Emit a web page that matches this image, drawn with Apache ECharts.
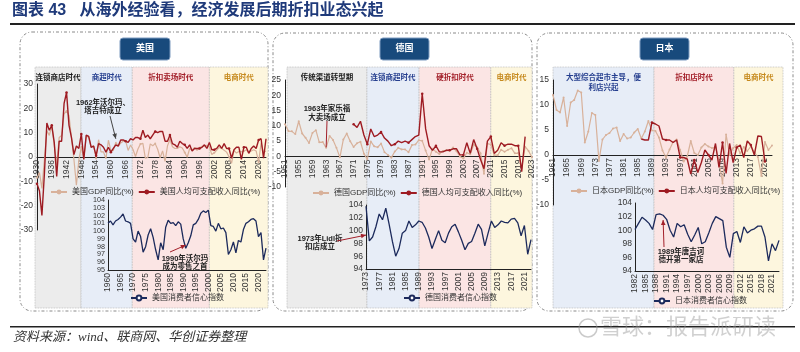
<!DOCTYPE html>
<html>
<head>
<meta charset="utf-8">
<script src="https://cdn.jsdelivr.net/npm/echarts@6/dist/echarts.min.js"></script>
</head>
<body style="margin:0;background:#fff">
<div id="main" style="width:800px;height:352px"></div>
<script>
// ---- 数据 ----
var usStart = 1930, usEnd = 2023;
var usGdp = [-8.5, -6.4, -12.9, -1.2, 10.8, 8.9, 12.9, 5.1, -3.3, 8.0,
  8.8, 17.7, 18.9, 17.0, 8.0, -1.0, -11.6, -1.1, 4.1, -0.6,
  8.7, 8.0, 4.1, 4.7, -0.6, 7.1, 2.1, 2.1, -0.7, 6.9,
  2.6, 2.6, 6.1, 4.4, 5.8, 6.5, 6.6, 2.7, 4.9, 3.1,
  0.2, 3.3, 5.3, 5.6, -0.5, -0.2, 5.4, 4.6, 5.5, 3.2,
  -0.3, 2.5, -1.8, 4.6, 7.2, 4.2, 3.5, 3.5, 4.2, 3.7,
  1.9, -0.1, 3.5, 2.8, 4.0, 2.7, 3.8, 4.4, 4.5, 4.8,
  4.1, 1.0, 1.7, 2.8, 3.9, 3.5, 2.8, 2.0, 0.1, -2.6,
  2.7, 1.6, 2.3, 2.1, 2.5, 2.9, 1.8, 2.5, 3.0, 2.5,
  -2.2, 5.8, 1.9, 2.5];
var usIncomeStart = 1930;
var usIncome = [-11, -14, -24, -7, 14, 11, 13, 6, -8, 6.5,
  6.5, 22, 26.5, 13, 8, 1, 4.5, 3.5, 9.5, -1,
  9, 8.5, 4, 4.5, 0.5, 5.5, 5, 4, 2, 4,
  2, 3.5, 5, 4.5, 7, 7, 6.5, 6, 7.5, 7,
  8, 8, 7.5, 11, 8, 9, 7.5, 9, 10.5, 10,
  10.5, 10.5, 6.5, 6.5, 9, 5.5, 5, 4, 6.5, 5.5,
  5, 3.5, 5, 2.5, 3.5, 3.5, 3.5, 4, 5, 3.5,
  6, 3, 3, 3.5, 5, 3.5, 5.5, 3.5, 3.5, -0.5,
  3, 4, 4, -1, 4, 4, 1.5, 3.5, 4.5, 3.5,
  7, 7.5, -0.5, 7.5];
var usCciStart = 1960;
var usCci = [101.0, 101.3, 100.8, 101.3, 101.5, 101.8, 102.2, 101.3, 101.2, 101.0,
  99.0, 98.6, 100.0, 99.3, 97.3, 98.0, 99.5, 100.3, 99.2, 97.6,
  96.3, 98.5, 97.6, 100.5, 101.4, 101.0, 101.1, 100.7, 101.2, 100.9,
  99.0, 97.8, 98.5, 99.4, 100.8, 101.0, 101.5, 102.3, 102.6, 102.4,
  102.7, 100.7, 100.6, 100.0, 101.0, 100.3, 100.4, 99.8, 97.0, 97.6,
  98.6, 97.2, 98.8, 98.6, 100.2, 101.0, 101.2, 101.5, 101.6, 101.3,
  99.3, 99.8, 96.3, 97.8];

var deStart = 1951, deEnd = 2023;
var deGdp = [10.5, 8.3, 8.2, 7.3, 11.5, 7.5, 6.1, 4.4, 7.7, 8.6,
  4.6, 4.7, 2.8, 6.7, 5.4, 2.8, -0.3, 5.5, 7.5, 5.0,
  3.1, 4.3, 4.8, 0.9, -0.9, 4.9, 3.3, 3.0, 4.2, 1.4,
  0.5, -0.4, 1.6, 2.8, 2.3, 2.3, 1.4, 3.7, 3.9, 5.3,
  5.1, 1.9, -1.0, 2.5, 1.5, 0.8, 1.8, 2.0, 1.9, 2.9,
  1.7, 0.0, -0.7, 1.2, 0.7, 3.8, 3.0, 1.0, -5.7, 4.2,
  3.9, 0.4, 0.4, 2.2, 1.5, 2.2, 2.7, 1.0, 1.1, -3.8,
  3.2, 1.8, -0.3];
var deIncomeStart = 1971;
var deIncome = [10.5, 9.5, 11.5, 7, 4, 9, 6.5, 7, 8, 6,
  5, 3.5, 4, 5, 4.5, 5, 4.5, 5.5, 6.5, 7,
  20.5, 9, 3.5, 2, 3.5, 1.5, 1.5, 2, 2, 2.5,
  2.5, 0.5, 0.5, 4.5, 1, 5.5, 2.5, -1, -4, 5,
  6.5, 1, 2, 4.5, 3.5, 4, 4, 3.5, 3.5, -5,
  6.5];
var deCciStart = 1973;
var deCci = [103.8, 98.4, 99.0, 100.6, 102.6, 101.7, 103.5, 101.0, 98.3, 96.0,
  97.2, 99.6, 100.0, 101.5, 100.5, 100.9, 101.5, 101.3, 100.4, 99.0,
  97.2, 98.6, 100.0, 98.5, 98.1, 99.6, 100.6, 101.0, 99.8, 98.5,
  97.0, 98.0, 98.3, 99.6, 101.0, 100.2, 97.6, 99.6, 101.5, 100.5,
  100.9, 101.5, 101.3, 101.2, 101.8, 101.9, 101.2, 99.2, 100.8, 96.3,
  98.6];

var jpStart = 1961, jpEnd = 2023;
var jpGdp = [12.0, 9.0, 8.5, 11.5, 5.8, 10.5, 11.0, 12.9, 12.5, 2.5,
  4.7, 8.4, 8.0, -1.2, 3.1, 4.0, 4.4, 5.3, 5.5, 2.8,
  4.2, 3.3, 3.5, 4.5, 5.2, 3.3, 4.7, 6.8, 4.9, 4.8,
  3.5, 0.9, -0.5, 1.1, 2.6, 3.1, 1.0, -1.3, -0.3, 2.8,
  0.4, 0.0, 1.5, 2.2, 1.7, 1.4, 1.5, -1.2, -5.7, 4.1,
  0.0, 1.4, 2.0, 0.3, 1.6, 0.8, 1.7, 0.6, -0.4, -4.2,
  2.6, 1.0, 1.9];
var jpIncomeStart = 1986;
var jpIncome = [3.2, 3.0, 3.0, 6.5, 6.2, 5.8, 3.2, 3.0, 3.0, 2.5,
  3.0, -0.5, -0.5, -0.8, -3.8, -1.0, -3.5, -1.5, 1.0, 0.0,
  -1.0, 2.3, -2.5, 2.5, -3.7, 2.3, -1.5, 1.5, 2.0, -0.5,
  2.8, 2.0, 0.0, 3.8, 3.7, -1.3];
var jpCciStart = 1982;
var jpCci = [100.1, 101.0, 101.9, 101.5, 101.0, 100.1, 102.3, 102.4, 102.2, 101.6,
  100.0, 99.0, 101.0, 100.5, 100.8, 99.4, 98.3, 99.3, 100.4, 98.0,
  98.3, 99.6, 101.0, 102.0, 101.7, 101.4, 97.5, 96.0, 99.5, 99.8,
  98.2, 100.5, 99.6, 100.0, 100.2, 100.6, 100.6, 99.0, 95.5, 98.0,
  97.0, 98.5];

// 时代划分 [起, 止, 名称]
var usEras = [[1929.2, 1947.9, '连锁商店时代'], [1947.9, 1968.7, '商超时代'], [1968.7, 2000, '折扣卖场时代'], [2000, 2023.8, '电商时代']];
var deEras = [[1951.6, 1974.9, '传统渠道转型期'], [1974.9, 1990.1, '连锁商超时代'], [1990.1, 2011, '硬折扣时代'], [2011, 2023, '电商时代']];
var jpEras = [[1961, 1989.6, '大型综合超市主导，便\n利店兴起'], [1989.6, 2012.2, '折扣店时代'], [2012.2, 2026.1, '电商时代']];
var usEraKinds = ['gray', 'blue', 'pink', 'yellow'];
var deEraKinds = ['gray', 'blue', 'pink', 'yellow'];
var jpEraKinds = ['blue', 'pink', 'yellow'];

// 轴标签间隔（年）
var usTopStep = 6, usBotStep = 5;
var deTopStep = 4, deBotStep = 4;
var jpTopStep = 4, jpBotStep = 3;

// ---- 样式 ----
var eraFill = { gray: '#ececec', blue: '#e7edf7', pink: '#fbe5e4', yellow: '#fdf6de' };
var eraText = { gray: '#1a1a1a', blue: '#263f8f', pink: '#a3202a', yellow: '#c68a1e' };
var cTan = '#d8b19a', cRed = '#9e1b22', cNavy = '#1c2a5c';
var FONT = "'Liberation Sans','Noto Sans CJK SC',sans-serif";

var panels = [
  { name: '美国', start: usStart, end: usEnd, gdp: usGdp, inc: usIncome, incStart: usIncomeStart,
    cci: usCci, cciStart: usCciStart, eras: usEras, kinds: usEraKinds, topStep: usTopStep, botStep: usBotStep,
    gdpName: '美国GDP同比(%)', incName: '美国人均可支配收入同比(%)', cciName: '美国消费者信心指数',
    box: [20, 32, 268, 311], head: [120, 38, 170, 60], bandYears: [1929.2, 2023.8],
    band: [35, 67, 268, 308], top: [37, 84, 266, 230], bot: [108, 200, 266, 270],
    topY: [-30, 30, 10], botY: [95, 104, 1], botYFont: 7.2, legTop: [50, 188], legBot: [130, 294] },
  { name: '德国', start: deStart, end: deEnd, gdp: deGdp, inc: deIncome, incStart: deIncomeStart,
    cci: deCci, cciStart: deCciStart, eras: deEras, kinds: deEraKinds, topStep: deTopStep, botStep: deBotStep,
    gdpName: '德国GDP同比(%)', incName: '德国人均可支配收入同比(%)', cciName: '德国消费者信心指数',
    box: [273, 33, 532, 311], head: [380, 38, 429, 60], bandYears: [1951.6, 2023],
    band: [287, 67, 532, 308], top: [285, 80, 532, 187], bot: [366, 205, 531, 269],
    topY: [-10, 25, 5], botY: [94, 104, 2], botYFont: 8.5, legTop: [312, 189], legBot: [403, 294] },
  { name: '日本', start: jpStart, end: jpEnd, gdp: jpGdp, inc: jpIncome, incStart: jpIncomeStart,
    cci: jpCci, cciStart: jpCciStart, eras: jpEras, kinds: jpEraKinds, topStep: jpTopStep, botStep: jpBotStep,
    gdpName: '日本GDP同比(%)', incName: '日本人均可支配收入同比(%)', cciName: '日本消费者信心指数',
    box: [537, 33, 793, 311], head: [640, 38, 689, 60], bandYears: [1961, 2026.1],
    band: [553, 67, 783, 308], top: [553, 80, 772, 205], bot: [635, 203, 779, 271],
    topY: [-10, 15, 5], botY: [94, 104, 2], botYFont: 8.5, legTop: [570, 187], legBot: [653, 297] }
];

function years(a, b) { var o = []; for (var y = a; y <= b; y++) o.push(String(y)); return o; }
function pairs(start, vals) { return vals.map(function (v, i) { return [String(start + i), v]; }); }
function box(r) { return { left: r[0], top: r[1], width: r[2] - r[0], height: r[3] - r[1] }; }

var grids = [], xAxes = [], yAxes = [], series = [], legends = [];
var axisLab = { fontSize: 8.5, color: '#333', fontFamily: FONT };
var yLab = { fontSize: 8.5, color: '#333', fontFamily: FONT, showMinLabel: true, showMaxLabel: true, hideOverlap: false };

panels.forEach(function (p, k) {
  var b = 3 * k;
  grids.push(box(p.band), box(p.top), box(p.bot));
  // 年份轴画在 0 值处：从网格底边上移
  var h = p.top[3] - p.top[1];
  var zeroUp = h * (0 - p.topY[0]) / (p.topY[1] - p.topY[0]);

  xAxes.push({ gridIndex: b, type: 'value', min: p.bandYears[0], max: p.bandYears[1], show: false });
  yAxes.push({ gridIndex: b, type: 'value', min: 0, max: 1, show: false });

  xAxes.push({ gridIndex: b + 1, type: 'category', data: years(p.start, p.end), boundaryGap: false, z: 1,
    position: 'bottom', offset: -zeroUp,
    axisLine: { show: true, onZero: false, lineStyle: { color: '#222', width: 1 } }, axisTick: { show: false },
    axisLabel: Object.assign({ rotate: 90, interval: p.topStep - 1, margin: 3 }, axisLab) });
  yAxes.push({ gridIndex: b + 1, type: 'value', min: p.topY[0], max: p.topY[1], interval: p.topY[2], z: 1,
    axisLine: { show: true, lineStyle: { color: '#222' } }, axisTick: { show: false }, splitLine: { show: false },
    axisLabel: Object.assign({ margin: 4 }, yLab) });

  xAxes.push({ gridIndex: b + 2, type: 'category', data: years(p.cciStart, p.end), boundaryGap: false, z: 1,
    axisLine: { show: true, onZero: false, lineStyle: { color: '#222', width: 1 } }, axisTick: { show: false },
    axisLabel: Object.assign({ rotate: 90, interval: p.botStep - 1, margin: 3 }, axisLab) });
  yAxes.push({ gridIndex: b + 2, type: 'value', min: p.botY[0], max: p.botY[1], interval: p.botY[2], z: 1,
    axisLine: { show: true, lineStyle: { color: '#222' } }, axisTick: { show: false }, splitLine: { show: false },
    axisLabel: Object.assign({}, yLab, { margin: 3, fontSize: p.botYFont, lineHeight: p.botYFont }) });

  // 背景时代色块放在坐标轴下面
  series.push({
    type: 'line', xAxisIndex: b, yAxisIndex: b, data: [], silent: true, z: -5,
    markArea: {
      silent: true, z: -5,
      label: { show: true, position: 'insideTop', distance: 6, fontSize: 7.5, fontWeight: 'bold',
        lineHeight: 10, fontFamily: FONT },
      data: p.eras.map(function (e, i) {
        var kind = p.kinds[i];
        return [{ xAxis: e[0], name: e[2],
          itemStyle: { color: eraFill[kind], borderColor: '#b8b8b8', borderWidth: 0.8, borderType: 'dotted' },
          label: { color: eraText[kind] } }, { xAxis: e[1] }];
      })
    }
  });
  series.push({ name: p.gdpName, type: 'line', xAxisIndex: b + 1, yAxisIndex: b + 1, z: 3,
    data: pairs(p.start, p.gdp), symbol: 'circle', symbolSize: 2,
    itemStyle: { color: cTan }, lineStyle: { color: cTan, width: 1.2 } });
  series.push({ name: p.incName, type: 'line', xAxisIndex: b + 1, yAxisIndex: b + 1, z: 4,
    data: pairs(p.incStart, p.inc), symbol: 'circle', symbolSize: 2.5,
    itemStyle: { color: cRed }, lineStyle: { color: cRed, width: 1.4 } });
  series.push({ name: p.cciName, type: 'line', xAxisIndex: b + 2, yAxisIndex: b + 2, z: 4,
    data: pairs(p.cciStart, p.cci), showSymbol: false,
    itemStyle: { color: cNavy }, lineStyle: { color: cNavy, width: 1.3 } });

  var legText = { fontSize: 8, color: '#333', fontFamily: FONT };
  legends.push({ left: p.legTop[0], top: p.legTop[1], padding: 0, itemGap: 4, itemWidth: 16, itemHeight: 6,
    data: [p.gdpName, p.incName], textStyle: legText, selectedMode: false });
  legends.push({ left: p.legBot[0], top: p.legBot[1], padding: 0, itemWidth: 16, itemHeight: 6,
    data: [p.cciName], textStyle: legText, selectedMode: false });
});

var chart = echarts.init(document.getElementById('main'));
chart.setOption({
  animation: false,
  textStyle: { fontFamily: FONT },
  title: { text: '图表 43   从海外经验看，经济发展后期折扣业态兴起', left: 12, top: 3, padding: 0,
    textStyle: { color: '#1f3a7a', fontSize: 16, fontWeight: 'bold', fontFamily: FONT } },
  grid: grids, xAxis: xAxes, yAxis: yAxes, legend: legends, series: series
});

// ---- 装饰与注释 ----
function arrow(p0, p1, color, head) {
  var els = [{ type: 'line', z: 20, shape: { x1: p0[0], y1: p0[1], x2: p1[0], y2: p1[1] },
    style: { stroke: color, lineWidth: 1 } }];
  if (head) {
    var dx = p1[0] - p0[0], dy = p1[1] - p0[1], L = Math.sqrt(dx * dx + dy * dy), ux = dx / L, uy = dy / L;
    var bx = p1[0] - ux * 5, by = p1[1] - uy * 5;
    els.push({ type: 'polygon', z: 20, shape: { points: [[p1[0], p1[1]], [bx - uy * 2.3, by + ux * 2.3], [bx + uy * 2.3, by - ux * 2.3]] },
      style: { fill: color } });
  }
  return els;
}
function px(axis, pt) { return chart.convertToPixel({ xAxisIndex: axis, yAxisIndex: axis }, pt); }
function note(x, y, text, lh) {
  return { type: 'text', z: 20, x: x, y: y, style: { text: text, align: 'center', verticalAlign: 'middle',
    fontSize: 7.5, fontWeight: 'bold', lineHeight: lh, fill: '#222', fontFamily: FONT } };
}

var g = [];
g.push({ type: 'rect', shape: { x: 10, y: 23, width: 785, height: 2 }, style: { fill: '#222' } });
g.push({ type: 'rect', shape: { x: 10, y: 326, width: 785, height: 1.6 }, style: { fill: '#222' } });
g.push({ type: 'text', x: 13, y: 338, style: { text: '资料来源：wind、联商网、华创证券整理', fontSize: 13,
  fontStyle: 'italic', fill: '#333', verticalAlign: 'middle', fontFamily: "'Liberation Serif','Noto Sans CJK SC',serif" } });
g.push({ type: 'circle', z: 30, shape: { cx: 588, cy: 328, r: 9 }, style: { fill: 'none', stroke: 'rgba(150,150,150,0.5)', lineWidth: 1.5 } });
g.push({ type: 'text', z: 30, x: 600, y: 328, style: { text: '雪球：报告派研读', fontSize: 22, fill: 'rgba(150,150,150,0.45)',
  verticalAlign: 'middle', fontFamily: FONT } });

panels.forEach(function (p) {
  g.push({ type: 'rect', z: -10, shape: { x: p.box[0], y: p.box[1], width: p.box[2] - p.box[0], height: p.box[3] - p.box[1], r: 12 },
    style: { fill: 'none', stroke: '#8a8a8a', lineWidth: 1, lineDash: [3, 2, 1, 2] } });
  g.push({ type: 'rect', shape: { x: p.head[0], y: p.head[1], width: p.head[2] - p.head[0], height: p.head[3] - p.head[1], r: 3 },
    style: { fill: '#184a7c', stroke: '#7f9cc0', lineWidth: 1 } });
  g.push({ type: 'text', x: (p.head[0] + p.head[2]) / 2, y: (p.head[1] + p.head[3]) / 2,
    style: { text: p.name, fill: '#fff', fontSize: 9, fontWeight: 'bold', align: 'center', verticalAlign: 'middle', fontFamily: FONT } });
});

g.push(note(103, 107, '1962年沃尔玛、\n塔吉特成立', 8.5));
g = g.concat(arrow([110, 116], px(1, ['1962', 7.5]), '#444', true));
g.push(note(185, 263, '1990年沃尔玛\n成为零售之首', 8.5));
g = g.concat(arrow([170, 252], px(2, ['1991', 98.2]), '#a3202a', true));
g.push(note(327, 113.5, '1963年家乐福\n大卖场成立', 8.5));
g = g.concat(arrow([327, 121], px(4, ['1963', 3]), '#a3202a', false));
g.push(note(320, 243, '1973年Lidl折\n扣店成立', 8.5));
g = g.concat(arrow([337, 241], px(5, ['1973', 99.3]), '#a3202a', true));
g.push(note(681, 256, '1989年唐吉诃\n德开第一家店', 8.5));
g = g.concat(arrow([664, 247], px(8, ['1990', 101.5]), '#a3202a', true));

chart.setOption({ graphic: g });
</script>
</body>
</html>
